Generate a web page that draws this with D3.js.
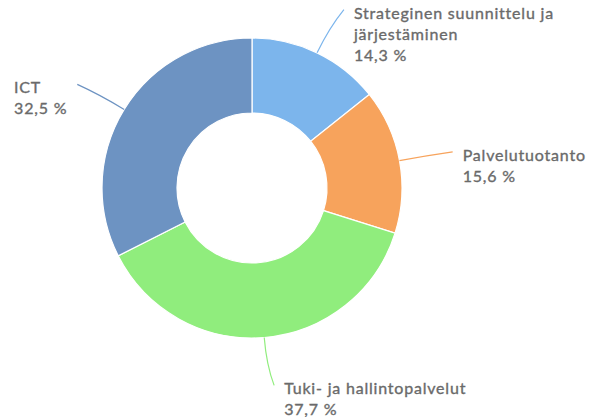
<!DOCTYPE html>
<html><head><meta charset="utf-8">
<script src="https://cdn.jsdelivr.net/npm/d3@7/dist/d3.min.js"></script>
<style>body{margin:0;background:#fff;}svg{display:block;}</style>
</head><body>
<svg id="c" width="590" height="417"></svg>
<script>
const categories = ["Strateginen suunnittelu ja|järjestäminen", "Palvelutuotanto", "Tuki- ja hallintopalvelut", "ICT"];
const values = [14.3, 15.6, 37.7, 32.5];
const valueLabels = ["14,3 %", "15,6 %", "37,7 %", "32,5 %"];
const colors = ["#7cb5ec", "#f7a35c", "#90ed7d", "#6d93c2"];

const svg = d3.select("#c");
const cx = 252, cy = 188, R = 150, r0 = 75;
const g = svg.append("g").attr("transform", `translate(${cx},${cy})`);
const data = categories.map((c, i) => ({c, v: values[i], l: valueLabels[i], col: colors[i]}));
const pie = d3.pie().sort(null).value(d => d.v);
const arcs = pie(data);
const arc = d3.arc().innerRadius(r0).outerRadius(R);

g.selectAll("path.s").data(arcs).join("path").attr("class", "s")
  .attr("d", arc).attr("fill", d => d.data.col)
  .attr("stroke", "#fff").attr("stroke-width", 1.2);

const pt = (a, rr) => [rr * Math.sin(a), -rr * Math.cos(a)];
const font = "Lato, 'Open Sans', sans-serif";
arcs.forEach(d => {
  const a = (d.startAngle + d.endAngle) / 2;
  const p0 = pt(a, R);
  const c1 = pt(a, R + 28);
  const e = pt(a, R + 48);
  const right = Math.sin(a) >= 0;
  const end = [e[0] + (right ? 6 : -6), e[1]];
  g.append("path")
    .attr("d", `M${p0[0]},${p0[1]} Q${c1[0]},${c1[1]} ${end[0]},${end[1]}`)
    .attr("fill", "none").attr("stroke", d.data.col).attr("stroke-width", 1.2);
  const lines = d.data.c.split("|").concat([d.data.l]);
  const t = g.append("text").attr("font-family", font).attr("font-size", 16)
    .attr("letter-spacing", 0.8)
    .attr("fill", "#6a6a6a").attr("stroke", "#6a6a6a").attr("stroke-width", 0.35)
    .attr("y", end[1] + 9);
  lines.forEach((ln, i) => t.append("tspan").attr("x", 0).attr("dy", i ? 21 : 0).text(ln));
  const w = t.node().getBBox().width;
  const x = right ? end[0] + 10 : end[0] - 10 - w;
  t.selectAll("tspan").attr("x", x);
});
</script>
</body></html>
